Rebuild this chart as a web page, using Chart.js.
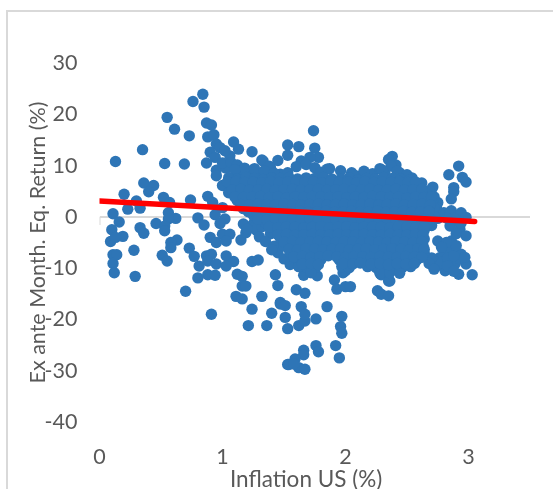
<!DOCTYPE html>
<html><head><meta charset="utf-8">
<script src="https://cdn.jsdelivr.net/npm/chart.js@4/dist/chart.umd.min.js"></script>
<style>
html,body{margin:0;padding:0;background:#fff;width:553px;height:489px;overflow:hidden}
#frame{position:absolute;left:6px;top:10px;width:560px;height:500px;border:2px solid #d9d9d9}
canvas{position:absolute;left:0;top:0}
</style></head><body>
<div id="frame"></div>
<canvas id="c" width="553" height="489"></canvas>
<script>
const xTitle = "Inflation US (%)";
const yTitle = "Ex ante Month. Eq. Return (%)";
const xTickValues = [0, 1, 2, 3];
const trendLine = [[0, 3.1], [3.05, -0.9]];
const axisTick = [[0, 0], [0, -1.6]];

const outerPoints = [[.84,23.9],[.76,22.5],[.85,21.4],[.55,19.4],[.87,18.3],[.91,17.9],[.61,17.1],[.73,15.8],[.88,15.6],[.93,16],
[.35,13.1],[.13,10.8],[.53,10.4],[.69,10.3],[.87,10.5],[.95,14.2],[.9,12.6],[.94,11.6],[.98,13.5],[1.09,14.6],[1.13,13.2],[1.06,11.9],[1.02,12.9],[1.24,12.7],[1.33,10.9],[1.39,9.6],[.95,9.1],[1.03,9.5],[.95,8],
[.36,6.6],[.44,6.1],[.4,4.9],[.2,4.4],[.52,3.8],[.3,3.1],[.74,3.3],[.88,4],[.23,1.5],[.33,1.7],[.57,2.8],[.92,2.8],[.11,.6],[.16,-1],[.56,.8],[.62,-.3],[.56,-.4],[.8,-.2],[.85,-1.6],[.94,.4],[1,1.8],[1.02,-.4],[.98,-1.3],
[.33,-2.1],[.46,-1.3],[.53,-1.8],[.1,-2.5],[1.17,-1.4],[1.25,-1.4],[.09,-4.8],[.19,-3.8],[.13,-4],[.36,-3.2],[.53,-2.7],[.63,-4.5],[.58,-5],[.58,-6],[.28,-6.5],[.11,-7.4],[.14,-7.4],[.11,-9.1],[.12,-10.9],[.29,-11.6],
[.51,-7.5],[.55,-8.6],[.73,-6.1],[.77,-7.7],[.81,-9.6],[.87,-7.6],[.91,-7.3],[.88,-8.6],[.95,-9.2],[.88,-11.3],[.94,-11.4],[.8,-11.9],[1.03,-7.6],[1.09,-8.7],[1.03,-9.6],[1.12,-11.2],[1.16,-11.6],[1.16,-13.5],[1.19,-13.5],[1.24,-8.7],[1.29,-8.4],[1.43,-11.3],[1.45,-13.4],[1.32,-15.5],[1.11,-15.5],[1.16,-16],[1.24,-18],[.7,-14.5],[.91,-19],[1.21,-21.2],[1.36,-21.2],[1.4,-18.8],[1.47,-16.7],[1.51,-19.6],[1.53,-21.8],[1.53,-28.8],
[.9,-4],[.95,-5],[1,-3.4],[1.06,-3.4],[1.03,-4.7],[1.15,-4.5],[1.19,-3.1],[1.28,-2.7],[1.39,-3.3],[1.47,-17],[1.51,-17.3],[1.62,-21.2],[1.67,-20.3],[1.76,-19.9],[1.64,-17.5],[1.67,-19],[1.85,-17.5],[1.97,-19.4],[1.96,-21.4],[1.97,-22.7],[1.92,-25.1],[1.95,-27.5],[1.76,-25.1],[1.78,-26.3],[1.66,-26],[1.66,-26.9],[1.59,-27.7],[1.54,-28.8],[1.62,-29.4],[1.67,-29.7],[1.58,-28.7],
[1.66,-11.4],[1.77,-11.5],[1.6,-14.2],[1.67,-14.9],[1.91,-12.3],[1.93,-14.1],[2,-13.6],[2.04,-13.6],[1.98,-10.9],[2.26,-14.4],[2.29,-15.1],[2.35,-15.4],[2.29,-11.3],[2.35,-12.5],
[2.38,11.8],[2.41,10.1],[2.92,9.9],[2.84,8.2],[2.95,7.7],[2.98,6.8],[2.88,5.7],[2.88,4.9],[2.86,3.5],[2.71,5.8],[2.75,2.8],[2.8,.8],[2.86,1.2],[2.94,.8],[2.98,-.1],[2.85,-1.8],[2.93,-2.4],[2.98,-3.7],[2.75,-4.7],[2.86,-4.7],[2.81,-6.6],[2.86,-6.6],[2.94,-7.3],[2.98,-9.2],[3.03,-11.3],[2.92,-11.2],[2.81,-10.5],[2.89,-9.2],[2.93,-8.2],[2.77,-7.9],
[1.74,16.8],[1.53,14],[1.62,13.7],[1.53,12],[1.75,13.4],[1.78,11.6],[1.64,10.9],[2.35,11.2],[1.32,11.1],[1.38,9.9],[1.13,8.6],[1.21,8.6],[1.28,8.3],[1.47,8.3],[1.53,8.6],[1.71,11.6],[1.85,9.3],[1.87,9.4],[1.96,9],[2.09,8],[2.22,8.4],[2.32,8.6],[2.44,8.6],[2.54,7.6],[2,-10.5],[2.36,-12.5]];

const edgePoints = [[1,10.5],[1.07,10.6],[1.12,10.1],[1.18,9.5],[1.1,9.2],[1.26,9.4],[1.34,9],[1.42,8.5],[1.45,11],[1.6,9.8],[1.68,10.2],[1.75,9.6],[1.8,8.7],[2.05,8.6],[2.15,8.9],[2.28,9.4],[2.37,9.9],[2.3,9.1],[2.42,8.9],[2.5,8.2],
[1.25,-2.2],[1.3,-3.9],[1.2,-2.4],[1.32,-1.9],[1.35,-4.8],[1.42,-5.7],[1.45,-7],[1.4,-6.4],[1.5,-8.2],[1.55,-9.3],
[2.72,-8.6],[2.74,-9.6],[2.78,-8.9],[2.83,-8.1],[2.88,-7.6],[2.83,-9.6],[2.88,-10.6],[2.97,-7.9],[2.9,-5.6],[2.82,-5],[2.7,-8],[2.68,-9.1],[2.72,-10.2],[2.78,-5.9],[2.92,-.9],[2.88,-.3],[2.82,-.2],[2.94,-1.2],[2.9,-3.3],[2.7,-1.7],[2.75,-.3],[2.76,.8],[2.72,3.9],[2.68,5.1],[2.62,6.6],[2.74,1.9]];

const densePoints = [
[1.05,7.6],[1.12,7.4],[1.19,7.7],[1.26,7.5],[1.33,7.3],[1.4,7.6],[1.47,7.5],[1.54,7.7],[1.61,7.4],[1.68,7.6],[1.75,7.5],[1.82,7.7],[1.89,7.4],[1.96,7.3],[2.03,7.6],[2.1,7.2],[2.17,7.5],[2.24,7.4],[2.31,7.7],[2.38,7.5],[2.45,7.4],[2.52,7.2],
[1,6.1],[1.07,5.9],[1.15,6.2],[1.22,6],[1.29,5.8],[1.36,6.1],[1.43,6],[1.5,5.9],[1.57,6.2],[1.64,6],[1.71,5.8],[1.78,6.1],[1.85,6],[1.92,5.9],[1.99,6.2],[2.06,6],[2.13,5.8],[2.2,6.1],[2.27,6],[2.34,5.9],[2.41,6.1],[2.48,5.9],[2.55,6],[2.6,5.8],
[1.05,4.7],[1.12,4.5],[1.19,4.6],[1.26,4.4],[1.33,4.7],[1.4,4.6],[1.47,4.5],[1.54,4.7],[1.61,4.4],[1.68,4.6],[1.75,4.7],[1.82,4.5],[1.89,4.6],[1.96,4.4],[2.03,4.7],[2.1,4.6],[2.17,4.5],[2.24,4.7],[2.31,4.4],[2.38,4.6],[2.45,4.5],[2.52,4.7],[2.59,4.6],[2.66,4.4],
[1.12,3.2],[1.19,3],[1.26,3.1],[1.33,3.3],[1.4,2.9],[1.47,3.1],[1.54,3],[1.61,3.2],[1.68,3.1],[1.75,2.9],[1.82,3.2],[1.89,3],[1.96,3.1],[2.03,3.3],[2.1,3],[2.17,2.9],[2.24,3.1],[2.31,3.2],[2.38,3],[2.45,3.1],[2.52,2.9],[2.59,3.2],[2.66,3],[2.7,3.1],
[1.17,1.6],[1.24,1.8],[1.31,1.7],[1.38,1.5],[1.45,1.8],[1.52,1.6],[1.59,1.7],[1.66,1.9],[1.73,1.6],[1.8,1.5],[1.87,1.8],[1.94,1.7],[2.01,1.6],[2.08,1.8],[2.15,1.5],[2.22,1.7],[2.29,1.6],[2.36,1.8],[2.43,1.7],[2.5,1.5],[2.57,1.8],[2.64,1.6],[2.72,1.7],
[1.25,.3],[1.32,.1],[1.39,.2],[1.46,.4],[1.53,.1],[1.6,.2],[1.67,0],[1.74,.3],[1.81,.2],[1.88,.1],[1.95,.3],[2.02,.2],[2.09,0],[2.16,.2],[2.23,.3],[2.3,.1],[2.37,.2],[2.44,0],[2.51,.3],[2.58,.1],[2.65,.2],[2.72,.1],
[1.35,-1.2],[1.42,-1.4],[1.49,-1.3],[1.56,-1.1],[1.63,-1.4],[1.7,-1.2],[1.77,-1.3],[1.84,-1.5],[1.91,-1.2],[1.98,-1.3],[2.05,-1.1],[2.12,-1.4],[2.19,-1.3],[2.26,-1.2],[2.33,-1.5],[2.4,-1.3],[2.47,-1.2],[2.54,-1.4],[2.61,-1.3],[2.68,-1.2],
[1.42,-2.8],[1.49,-2.6],[1.56,-2.7],[1.63,-2.9],[1.7,-2.6],[1.77,-2.8],[1.84,-2.7],[1.91,-2.5],[1.98,-2.8],[2.05,-2.7],[2.12,-2.9],[2.19,-2.6],[2.26,-2.7],[2.33,-2.8],[2.4,-2.6],[2.47,-2.8],[2.54,-2.7],[2.6,-2.9],[2.64,-2.6],
[1.47,-4.1],[1.54,-4.3],[1.61,-4.2],[1.68,-4],[1.75,-4.3],[1.82,-4.1],[1.89,-4.2],[1.96,-4.4],[2.03,-4.1],[2.1,-4.2],[2.17,-4],[2.24,-4.3],[2.31,-4.2],[2.38,-4.1],[2.45,-4.4],[2.52,-4.2],[2.59,-4.1],[2.64,-4.3],
[1.5,-5.7],[1.57,-5.5],[1.64,-5.6],[1.71,-5.8],[1.78,-5.5],[1.85,-5.7],[1.92,-5.6],[1.99,-5.4],[2.06,-5.7],[2.13,-5.6],[2.2,-5.8],[2.27,-5.5],[2.34,-5.6],[2.41,-5.7],[2.48,-5.5],[2.55,-5.7],[2.63,-5.6],
[1.55,-7],[1.62,-7.2],[1.69,-7.1],[1.76,-6.9],[1.83,-7.2],[1.9,-7],[1.97,-7.1],[2.04,-7.3],[2.11,-7],[2.18,-7.1],[2.25,-6.9],[2.32,-7.2],[2.39,-7.1],[2.46,-7],[2.53,-7.3],[2.6,-7.1],[2.64,-7],
[1.62,-8.6],[1.69,-8.4],[1.76,-8.5],[1.8,-8.3],[1.95,-8.4],[2.02,-8.6],[2.09,-8.3],[2.16,-8.5],[2.23,-8.4],[2.3,-8.6],[2.37,-8.5],[2.44,-8.3],[2.51,-8.6],[2.58,-8.4],
[1.62,-9.7],[1.69,-9.9],[1.76,-9.8],[1.97,-9.7],[2.03,-9.9],[2.18,-9.7],[2.25,-9.9],[2.32,-9.8],[2.39,-9.7],[2.46,-9.9],[2.53,-9.7],
[1.72,-10.9],[2.28,-11],[2.36,-10.9],[2.44,-11]
];

const fillPoints = [
[1.04,6.8],[1.11,6.9],[1.18,6.7],[1.25,6.8],[1.32,6.6],[1.39,6.9],[1.46,6.7],[1.53,6.8],[1.6,6.9],[1.67,6.7],[1.74,6.8],[1.81,6.6],[1.88,6.9],[1.95,6.7],[2.02,6.8],[2.09,6.6],[2.16,6.9],[2.23,6.7],[2.3,6.8],[2.37,6.7],[2.44,6.9],[2.51,6.7],[2.57,6.8],
[1.08,5.3],[1.15,5.4],[1.22,5.2],[1.29,5.3],[1.36,5.4],[1.43,5.2],[1.5,5.3],[1.57,5.4],[1.64,5.2],[1.71,5.3],[1.78,5.4],[1.85,5.2],[1.92,5.3],[1.99,5.4],[2.06,5.2],[2.13,5.3],[2.2,5.4],[2.27,5.2],[2.34,5.3],[2.41,5.4],[2.48,5.2],[2.55,5.3],[2.62,5.4],
[1.1,3.9],[1.17,3.8],[1.24,3.9],[1.31,4],[1.38,3.8],[1.45,3.9],[1.52,3.7],[1.59,3.9],[1.66,3.8],[1.73,4],[1.8,3.9],[1.87,3.8],[1.94,3.9],[2.01,3.7],[2.08,3.9],[2.15,3.8],[2.22,4],[2.29,3.9],[2.36,3.8],[2.43,3.9],[2.5,3.7],[2.57,3.9],[2.64,3.8],[2.7,3.9],
[1.15,2.4],[1.22,2.3],[1.29,2.5],[1.36,2.4],[1.43,2.3],[1.5,2.5],[1.57,2.4],[1.64,2.3],[1.71,2.4],[1.78,2.5],[1.85,2.3],[1.92,2.4],[1.99,2.5],[2.06,2.3],[2.13,2.4],[2.2,2.5],[2.27,2.3],[2.34,2.4],[2.41,2.5],[2.48,2.3],[2.55,2.4],[2.62,2.5],[2.69,2.3],
[1.21,1],[1.28,.9],[1.35,1.1],[1.42,1],[1.49,.9],[1.56,1],[1.63,1.1],[1.7,.9],[1.77,1],[1.84,1.1],[1.91,.9],[1.98,1],[2.05,1.1],[2.12,.9],[2.19,1],[2.26,1.1],[2.33,.9],[2.4,1],[2.47,1.1],[2.54,.9],[2.61,1],[2.68,1.1],
[1.29,-.5],[1.36,-.6],[1.43,-.4],[1.5,-.5],[1.57,-.6],[1.64,-.5],[1.71,-.4],[1.78,-.6],[1.85,-.5],[1.92,-.4],[1.99,-.6],[2.06,-.5],[2.13,-.4],[2.2,-.5],[2.27,-.6],[2.34,-.4],[2.41,-.5],[2.48,-.6],[2.55,-.5],[2.62,-.4],[2.69,-.5],
[1.38,-2],[1.45,-2.1],[1.52,-1.9],[1.59,-2],[1.66,-2.1],[1.73,-2],[1.8,-1.9],[1.87,-2.1],[1.94,-2],[2.01,-1.9],[2.08,-2.1],[2.15,-2],[2.22,-1.9],[2.29,-2],[2.36,-2.1],[2.43,-1.9],[2.5,-2],[2.57,-2.1],[2.64,-2],
[1.45,-3.5],[1.52,-3.4],[1.59,-3.6],[1.66,-3.5],[1.73,-3.4],[1.8,-3.5],[1.87,-3.6],[1.94,-3.4],[2.01,-3.5],[2.08,-3.6],[2.15,-3.4],[2.22,-3.5],[2.29,-3.6],[2.36,-3.4],[2.43,-3.5],[2.5,-3.6],[2.57,-3.4],[2.63,-3.5],
[1.5,-4.9],[1.57,-4.8],[1.64,-5],[1.71,-4.9],[1.78,-4.8],[1.85,-4.9],[1.92,-5],[1.99,-4.8],[2.06,-4.9],[2.13,-5],[2.2,-4.8],[2.27,-4.9],[2.34,-5],[2.41,-4.8],[2.48,-4.9],[2.55,-5],[2.62,-4.8],
[1.54,-6.3],[1.61,-6.4],[1.68,-6.2],[1.75,-6.3],[1.82,-6.4],[1.89,-6.3],[1.96,-6.2],[2.03,-6.4],[2.1,-6.3],[2.17,-6.2],[2.24,-6.4],[2.31,-6.3],[2.38,-6.2],[2.45,-6.3],[2.52,-6.4],[2.59,-6.2],[2.64,-6.3],
[1.58,-7.8],[1.65,-7.7],[1.72,-7.9],[1.79,-7.8],[1.86,-7.6],[1.93,-7.8],[2,-7.9],[2.07,-7.7],[2.14,-7.8],[2.21,-7.9],[2.28,-7.7],[2.35,-7.8],[2.42,-7.9],[2.49,-7.7],[2.56,-7.8],[2.62,-7.9],
[1.65,-9.2],[1.72,-9.1],[1.78,-9.3],[1.98,-9.1],[2.06,-9.2],[2.12,-9],[2.21,-9.2],[2.28,-9.1],[2.35,-9.3],[2.42,-9.1],[2.49,-9.2],[2.56,-9.1]
];

const toXY = p => ({x: p[0], y: p[1]});
const inkGray = "#595959", ruleGray = "#d9d9d9", blue = "#2e75b6";
const font = {family: "Lato, 'Open Sans', sans-serif", size: 21.5};
const xTitleFont = {family: "Lato, 'Open Sans', sans-serif", size: 22.5};

new Chart(document.getElementById("c"), {
  type: "scatter",
  data: {datasets: [
    {label: "Trend", type: "line", data: trendLine.map(toXY), borderColor: "#ff0000", borderWidth: 5.5, borderCapStyle: "round", pointRadius: 0, fill: false, order: 0},
    {label: "Returns", data: outerPoints.concat(edgePoints, densePoints, fillPoints).map(toXY), backgroundColor: blue, borderColor: blue, borderWidth: 0, pointRadius: 5.7, order: 1},
    {label: "Tick", type: "line", data: axisTick.map(toXY), borderColor: ruleGray, borderWidth: 2, pointRadius: 0, fill: false, order: 2}
  ]},
  options: {
    responsive: false, animation: false, devicePixelRatio: 1,
    layout: {padding: {left: 0, right: 23, top: 63, bottom: 0}},
    plugins: {legend: {display: false}, tooltip: {enabled: false}},
    scales: {
      x: {
        type: "linear", min: 0, max: 3.5,
        afterBuildTicks: s => { s.ticks = xTickValues.map(v => ({value: v})); },
        afterFit: s => { s.height = 67; },
        border: {display: false}, grid: {display: false},
        ticks: {color: inkGray, font, padding: 14, maxRotation: 0},
        title: {display: true, text: xTitle + "   ", color: inkGray, font: xTitleFont, padding: {top: 4, bottom: -4}}
      },
      y: {
        min: -40, max: 30,
        afterFit: s => { s.width = 99.5; },
        border: {display: false},
        grid: {drawTicks: false, lineWidth: 2, color: c => c.tick && c.tick.value === 0 ? ruleGray : "rgba(0,0,0,0)"},
        ticks: {stepSize: 10, color: inkGray, font, padding: 22},
        title: {display: true, text: yTitle, color: inkGray, font, padding: {top: 25, bottom: 0}}
      }
    }
  }
});
</script>
</body></html>
